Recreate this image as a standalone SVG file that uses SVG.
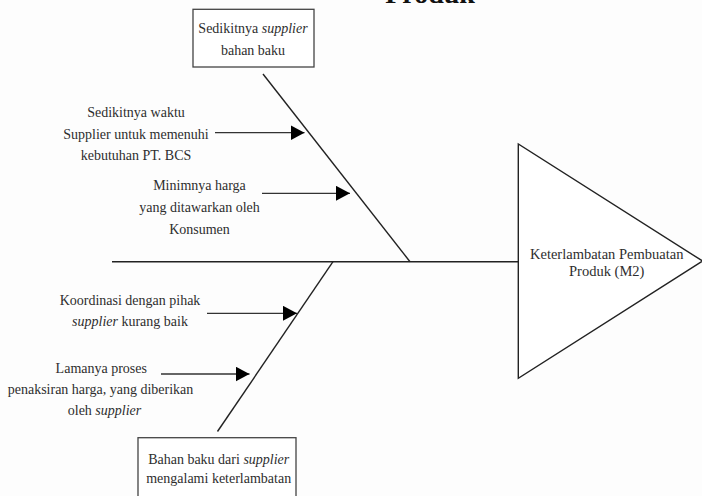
<svg xmlns="http://www.w3.org/2000/svg" width="702" height="496" viewBox="0 0 702 496">
<style>
text{font-family:"Liberation Serif","Times New Roman",serif;font-size:14px;fill:#2e2e2e;text-anchor:middle}
.it{font-style:italic}
.box{fill:#fff;stroke:#444;stroke-width:1.3}
.ln{stroke:#222;stroke-width:1.4;fill:none}
.arr{stroke:#333;stroke-width:1.3;fill:none;marker-end:url(#ah)}
.eff{font-size:14.5px}
</style>
<defs>
<marker id="ah" markerUnits="userSpaceOnUse" markerWidth="15" markerHeight="16" refX="14" refY="7.5" orient="auto">
<path d="M0,0 L14,7.5 L0,15 z" fill="#000"/>
</marker>
</defs>
<rect width="702" height="496" fill="#fdfdfd"/>
<text x="430" y="3" style="font-size:28px;font-weight:bold;fill:#111">Produk</text>
<g id="connectors">
<line class="ln" x1="112" y1="261.7" x2="518" y2="261.7"/>
<line class="ln" x1="263" y1="74" x2="410" y2="261.7"/>
<line class="ln" x1="333" y1="261.7" x2="217.5" y2="431.5"/>
<line class="arr" x1="215" y1="132.7" x2="304.5" y2="132.7"/>
<line class="arr" x1="262" y1="193.3" x2="350" y2="193.3"/>
<line class="arr" x1="207" y1="313.3" x2="297" y2="313.3"/>
<line class="arr" x1="161" y1="374" x2="249.5" y2="374"/>
</g>
<g id="effect">
<polygon points="518.3,144 518.3,378.3 702.5,261" fill="#fff" stroke="#222" stroke-width="1.4"/>
<text class="eff" x="606.7" y="259">Keterlambatan Pembuatan</text>
<text class="eff" x="606.7" y="276">Produk (M2)</text>
</g>
<g id="cause-top">
<rect class="box" x="193" y="9.3" width="121" height="57.7"/>
<text x="253" y="33">Sedikitnya <tspan class="it">supplier</tspan></text>
<text x="253" y="55">bahan baku</text>
</g>
<g id="cause-bottom">
<rect class="box" x="138" y="437.7" width="158" height="70"/>
<text x="218.7" y="464">Bahan baku dari <tspan class="it">supplier</tspan></text>
<text x="218.7" y="483">mengalami keterlambatan</text>
</g>
<g id="sub1">
<text x="136" y="117">Sedikitnya waktu</text>
<text x="136" y="138.5">Supplier untuk memenuhi</text>
<text x="136" y="160">kebutuhan PT. BCS</text>
</g>
<g id="sub2">
<text x="199.5" y="190">Minimnya harga</text>
<text x="199.5" y="212">yang ditawarkan oleh</text>
<text x="199.5" y="234">Konsumen</text>
</g>
<g id="sub3">
<text x="130" y="305">Koordinasi dengan pihak</text>
<text x="130" y="326"><tspan class="it">supplier</tspan> kurang baik</text>
</g>
<g id="sub4">
<text x="101.3" y="372.7">Lamanya proses</text>
<text x="100.5" y="394">penaksiran harga, yang diberikan</text>
<text x="104.5" y="415">oleh <tspan class="it">supplier</tspan></text>
</g>
</svg>
